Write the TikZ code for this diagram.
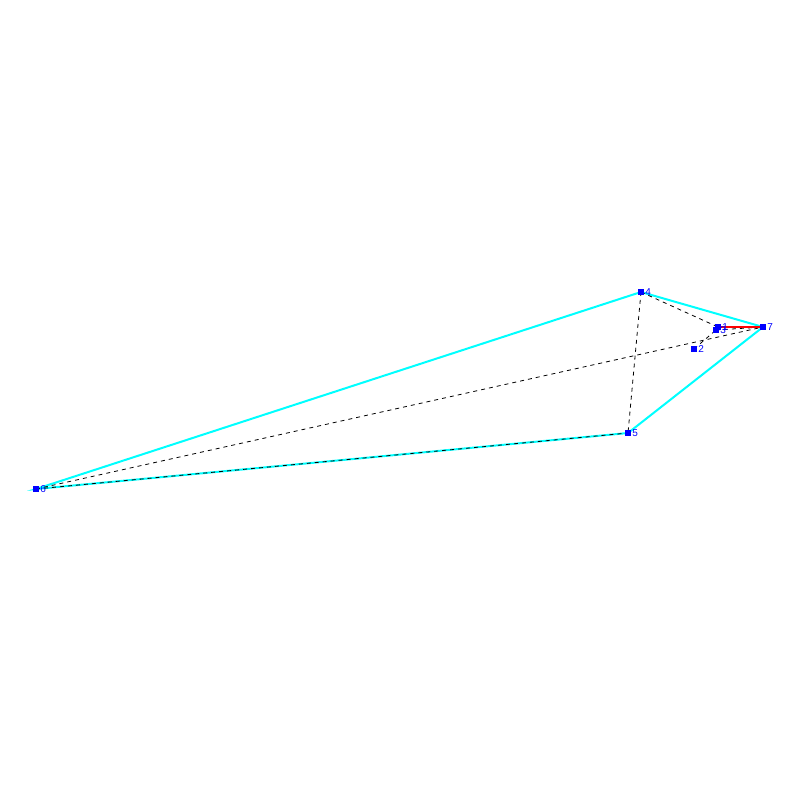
\documentclass[tikz,border=0pt]{standalone}
\usepackage{fontspec}
\setmainfont{Liberation Sans}
\definecolor{hullcyan}{RGB}{0,255,255}
\definecolor{ptblue}{RGB}{0,0,255}
\definecolor{redc}{RGB}{255,0,0}
\begin{document}
\begin{tikzpicture}[x=0.75pt,y=-0.75pt,
  pt/.style={fill=ptblue,inner sep=0pt,minimum size=5.2pt,draw=none},
  lbl/.style={text=ptblue,font=\fontsize{7.5}{8}\selectfont,inner sep=0pt,anchor=west,xshift=3pt},
  hull/.style={draw=hullcyan,line width=1.5pt},
  dsh/.style={draw=black,dashed,line width=0.6pt},
  redl/.style={draw=redc,line width=2.2pt}]
\useasboundingbox (0,0) rectangle (800,800);
\coordinate (p1) at (718,327);
\coordinate (p2) at (694,349);
\coordinate (p3) at (716,330);
\coordinate (p4) at (641,292);
\coordinate (p5) at (628,433);
\coordinate (p6) at (36,489);
\coordinate (p7) at (763,327);
\draw[hull] (p6) -- (p4) -- (p7) -- (p5) -- cycle;
\draw[dsh] (p6) -- (p7);
\draw[dsh] (p6) -- (p5);
\draw[dsh] (p4) -- (p5);
\draw[dsh] (p4) -- (p1);
\draw[dsh] (p2) -- (p3);
\draw[dsh] (p3) -- (p7);
\draw[redl] (p1) -- (p7);
\foreach \i in {1,...,7} {
  \node[pt] (n\i) at (p\i) {};
  \node[lbl] (l\i) at (p\i) {\i};
}
\end{tikzpicture}
\end{document}
